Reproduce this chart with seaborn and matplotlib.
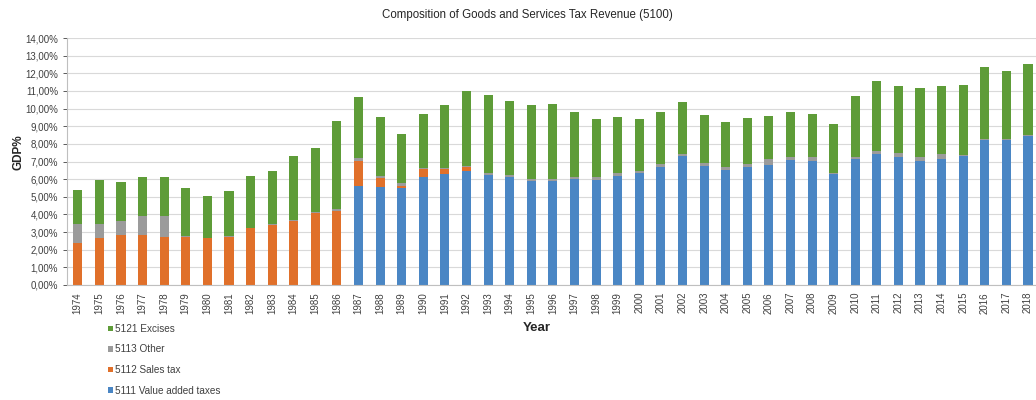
import pandas as pd
import matplotlib
matplotlib.use("Agg")
import matplotlib.pyplot as plt
from matplotlib.ticker import FuncFormatter, MultipleLocator
import seaborn as sns

# --- data (GDP %) ---
years = list(range(1974, 2019))

vat = [0, 0, 0, 0, 0, 0, 0, 0, 0, 0, 0, 0, 0,
       5.62, 5.54, 5.48, 6.14, 6.29, 6.48,
       6.24, 6.14, 5.90, 5.90, 6.01, 5.95,
       6.20, 6.33, 6.71, 7.31, 6.75, 6.52,
       6.71, 6.80, 7.09, 7.03, 6.27, 7.13,
       7.41, 7.28, 7.03, 7.14, 7.31, 8.22, 8.22, 8.45]

sales_tax = [2.40, 2.65, 2.82, 2.82, 2.70, 2.70, 2.65, 2.74, 3.22, 3.42, 3.65, 4.08, 4.22,
             1.42, 0.55, 0.12, 0.42, 0.27, 0.19,
             0, 0, 0, 0, 0, 0,
             0, 0, 0, 0, 0, 0,
             0, 0, 0, 0, 0, 0,
             0, 0, 0, 0, 0, 0, 0, 0]

other = [1.05, 0.80, 0.83, 1.09, 1.22, 0.06, 0.03, 0.03, 0.03, 0.03, 0.03, 0.05, 0.06,
         0.14, 0.06, 0.20, 0.09, 0.09, 0.10,
         0.09, 0.10, 0.11, 0.10, 0.13, 0.15,
         0.12, 0.13, 0.13, 0.12, 0.15, 0.15,
         0.13, 0.34, 0.19, 0.25, 0.10, 0.15,
         0.19, 0.22, 0.25, 0.29, 0.06, 0.06, 0.06, 0.05]

excises = [1.94, 2.50, 2.21, 2.19, 2.18, 2.76, 2.37, 2.56, 2.95, 3.03, 3.63, 3.64, 5.02,
           3.50, 3.39, 2.76, 3.02, 3.55, 4.23,
           4.44, 4.21, 4.19, 4.26, 3.69, 3.31,
           3.18, 2.93, 2.95, 2.92, 2.74, 2.55,
           2.65, 2.44, 2.51, 2.39, 2.73, 3.43,
           3.96, 3.80, 3.87, 3.85, 3.97, 4.06, 3.87, 4.01]

series_names = ["5121 Excises", "5113 Other", "5112 Sales tax", "5111 Value added taxes"]
series_colors = ["#5e9c38", "#9b9b9b", "#e0702a", "#4a86c4"]

df = pd.DataFrame({
    "year": years,
    "5111 Value added taxes": vat,
    "5112 Sales tax": sales_tax,
    "5113 Other": other,
    "5121 Excises": excises,
})
long_df = df.melt(id_vars="year", var_name="component", value_name="gdp")

# --- plot ---
sns.set_theme(style="white")
plt.rcParams["font.family"] = ["Liberation Sans", "DejaVu Sans"]

fig = plt.figure(figsize=(10.36, 4), dpi=100)
ax = fig.add_axes([67 / 1036, 1 - 285 / 400, (1036 - 67) / 1036, (285 - 38) / 400])

# histplot stacks the last hue level at the bottom
sns.histplot(
    data=long_df,
    x="year",
    weights="gdp",
    hue="component",
    hue_order=series_names,
    palette=dict(zip(series_names, series_colors)),
    multiple="stack",
    discrete=True,
    shrink=0.42,
    alpha=1,
    linewidth=0,
    ax=ax,
)

ax.set_xlim(years[0] - 0.5, years[-1] + 0.37)
ax.set_ylim(0, 14)
ax.yaxis.set_major_locator(MultipleLocator(1))
ax.yaxis.set_major_formatter(FuncFormatter(lambda v, p: f"{v:.2f}%".replace(".", ",")))
ax.set_xticks(years)
ax.set_xticklabels([str(y) for y in years], rotation=90)
ax.tick_params(axis="both", labelsize=7, colors="#404040", length=3,
               width=0.6, direction="out", left=True, bottom=True)
ax.tick_params(axis="x", length=0, pad=5)

ax.yaxis.grid(True, color="#d9d9d9", linewidth=0.8)
ax.set_axisbelow(True)
for side in ["top", "right"]:
    ax.spines[side].set_visible(False)
for side in ["left", "bottom"]:
    ax.spines[side].set_color("#bfbfbf")
    ax.spines[side].set_linewidth(0.8)

ax.set_ylabel("GDP%", fontsize=8.5, fontweight="bold", color="#262626")
ax.set_xlabel("Year", fontsize=9.5, fontweight="bold", color="#262626")
ax.yaxis.set_label_coords((18 - 67) / 969, (285 - 152) / 247)
ax.xaxis.set_label_coords((537 - 67) / 969, (285 - 328) / 247)
ax.xaxis.label.set_va("center")
ax.yaxis.label.set_va("center")
fig.text(527 / 1036, 1 - 15 / 400, "Composition of Goods and Services Tax Revenue (5100)",
         ha="center", va="center", fontsize=8.3, color="#262626")

sns.move_legend(
    ax,
    loc="upper left",
    bbox_to_anchor=(104 / 1036, 1 - 320 / 400),
    bbox_transform=fig.transFigure,
    title=None,
    frameon=False,
    fontsize=7.2,
    handlelength=0.5,
    handleheight=0.5,
    handletextpad=0.2,
    labelspacing=1.05,
    borderaxespad=0,
)
for t in ax.get_legend().get_texts():
    t.set_color("#404040")

fig.savefig("out.png", dpi=100)
plt.close(fig)
